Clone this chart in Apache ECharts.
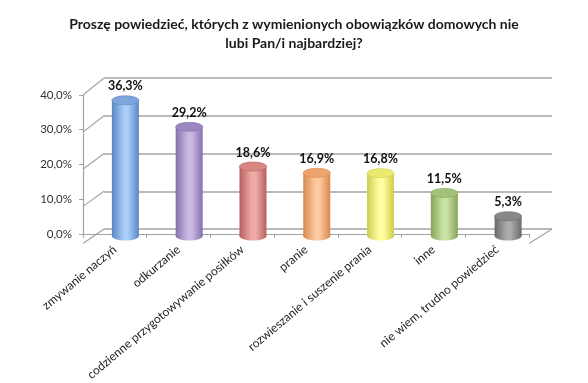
<!DOCTYPE html>
<html>
<head>
<meta charset="utf-8">
<script src="https://cdn.jsdelivr.net/npm/echarts@6/dist/echarts.min.js"></script>
<style>html,body{margin:0;padding:0;background:#fff}#c{width:588px;height:383px}</style>
</head>
<body>
<div id="c"></div>
<script>
const titleText = 'Proszę powiedzieć, których z wymienionych obowiązków domowych nie\nlubi Pan/i najbardziej?';
const categories = ['zmywanie naczyń', 'odkurzanie', 'codzienne przygotowywanie posiłków', 'pranie', 'rozwieszanie i suszenie prania', 'inne', 'nie wiem, trudno powiedzieć'];
const values = [36.3, 29.2, 18.6, 16.9, 16.8, 11.5, 5.3];
const yTicks = [0, 10, 20, 30, 40];
// [edge, center, cap]
const barColors = [
  ['#5a86c6', '#a9cdf7', '#7ea6dc'],
  ['#8670ac', '#c8b9e2', '#9c88c0'],
  ['#b5605c', '#f0aba8', '#d78884'],
  ['#d88a4e', '#fcc9a0', '#efa46e'],
  ['#cccc50', '#ffffa0', '#eaea6c'],
  ['#84a556', '#cbe3a6', '#a4c27a'],
  ['#6a6a6a', '#ababab', '#888888']
];

const W = 588, H = 383;
const FRONT = {left: 83, right: 59, top: 95, bottom: 139.5};
const BACK = {left: 104, right: 36, top: 78, bottom: 154};
const MID = {left: 93.5, right: 48, top: 86.5, bottom: 147};
const FONT = 'Lato, "Open Sans", sans-serif';
const GRID_COLOR = '#a3a3a3';

function backToFront(x, y) {
  const fx = FRONT.left + (x - BACK.left) * (W - FRONT.left - FRONT.right) / (W - BACK.left - BACK.right);
  const fy = FRONT.top + (y - BACK.top) * (H - FRONT.top - FRONT.bottom) / (H - BACK.top - BACK.bottom);
  return [fx, fy];
}

const chart = echarts.init(document.getElementById('c'), null, {renderer: 'canvas'});

const option = {
  animation: false,
  backgroundColor: '#ffffff',
  title: {
    text: titleText,
    left: 'center',
    top: 10,
    textStyle: {fontFamily: FONT, fontSize: 14, fontWeight: 'bold', color: '#1a1a1a', lineHeight: 19}
  },
  grid: [
    Object.assign({containLabel: false}, BACK),
    Object.assign({containLabel: false}, FRONT),
    Object.assign({containLabel: false}, MID)
  ],
  xAxis: [
    {gridIndex: 0, type: 'category', data: categories, show: false},
    {
      gridIndex: 1, type: 'category', data: categories,
      axisLine: {show: true, lineStyle: {color: GRID_COLOR, width: 1.2}},
      axisTick: {show: true, length: 4, lineStyle: {color: GRID_COLOR}},
      axisLabel: {rotate: 40, margin: 14, fontFamily: FONT, fontSize: 12, color: '#222', interval: 0}
    },
    {gridIndex: 2, type: 'category', data: categories, show: false}
  ],
  yAxis: [
    {
      gridIndex: 0, type: 'value', min: 0, max: 40, interval: 10,
      axisLine: {show: false}, axisTick: {show: false}, axisLabel: {show: false},
      splitLine: {show: true, lineStyle: {color: GRID_COLOR, width: 1.5}}
    },
    {
      gridIndex: 1, type: 'value', min: 0, max: 40, interval: 10,
      axisLine: {show: true, lineStyle: {color: GRID_COLOR, width: 1.2}},
      axisTick: {show: true, length: 4, lineStyle: {color: GRID_COLOR}},
      splitLine: {show: false},
      axisLabel: {
        margin: 11, fontFamily: FONT, fontSize: 11.5, color: '#333',
        formatter: v => v.toFixed(1).replace('.', ',') + '%'
      }
    },
    {gridIndex: 2, type: 'value', min: 0, max: 40, interval: 10, show: false}
  ],
  series: [
    {
      type: 'custom',
      name: 'frame',
      xAxisIndex: 0, yAxisIndex: 0,
      z: 1,
      silent: true,
      data: yTicks.map(v => [0, v, 0]).concat([[categories.length - 1, 0, 1]]),
      encode: {x: 0, y: 1},
      renderItem: function (params, api) {
        const idx = api.value(0), v = api.value(1), side = api.value(2);
        const p = api.coord([idx, v]);
        const bw = api.size([1, 0])[0];
        const bx = side === 0 ? p[0] - bw / 2 : p[0] + bw / 2;
        const by = p[1];
        const f = backToFront(bx, by);
        return {
          type: 'line',
          shape: {x1: f[0], y1: f[1], x2: bx, y2: by},
          style: {stroke: GRID_COLOR, lineWidth: 1.2}
        };
      }
    },
    {
      type: 'custom',
      name: 'bars',
      xAxisIndex: 2, yAxisIndex: 2,
      z: 5,
      data: values.map((v, i) => [i, v]),
      encode: {x: 0, y: 1},
      renderItem: function (params, api) {
        const i = api.value(0), v = api.value(1);
        const top = api.coord([i, v]);
        const base = api.coord([i, 0]);
        const cx = top[0];
        const w = 27, rx = w / 2, ry = 4.5;
        const c = barColors[i % barColors.length];
        const grad = new echarts.graphic.LinearGradient(0, 0, 1, 0, [
          {offset: 0, color: c[0]},
          {offset: 0.45, color: c[1]},
          {offset: 0.6, color: c[1]},
          {offset: 1, color: c[0]}
        ]);
        const label = v.toFixed(1).replace('.', ',') + '%';
        return {
          type: 'group',
          children: [
            {type: 'ellipse', shape: {cx: cx, cy: base[1], rx: rx, ry: ry}, style: {fill: grad}},
            {type: 'rect', shape: {x: cx - rx, y: top[1], width: w, height: base[1] - top[1]}, style: {fill: grad}},
            {type: 'ellipse', shape: {cx: cx, cy: top[1], rx: rx, ry: ry}, style: {fill: c[2], stroke: c[0], lineWidth: 0.6}},
            {
              type: 'text',
              style: {
                text: label, x: cx, y: top[1] - ry - 3,
                align: 'center', verticalAlign: 'bottom',
                fontFamily: FONT, fontSize: 12.5, fontWeight: 'bold', fill: '#111'
              }
            }
          ]
        };
      }
    }
  ]
};
chart.setOption(option);
</script>
</body>
</html>
